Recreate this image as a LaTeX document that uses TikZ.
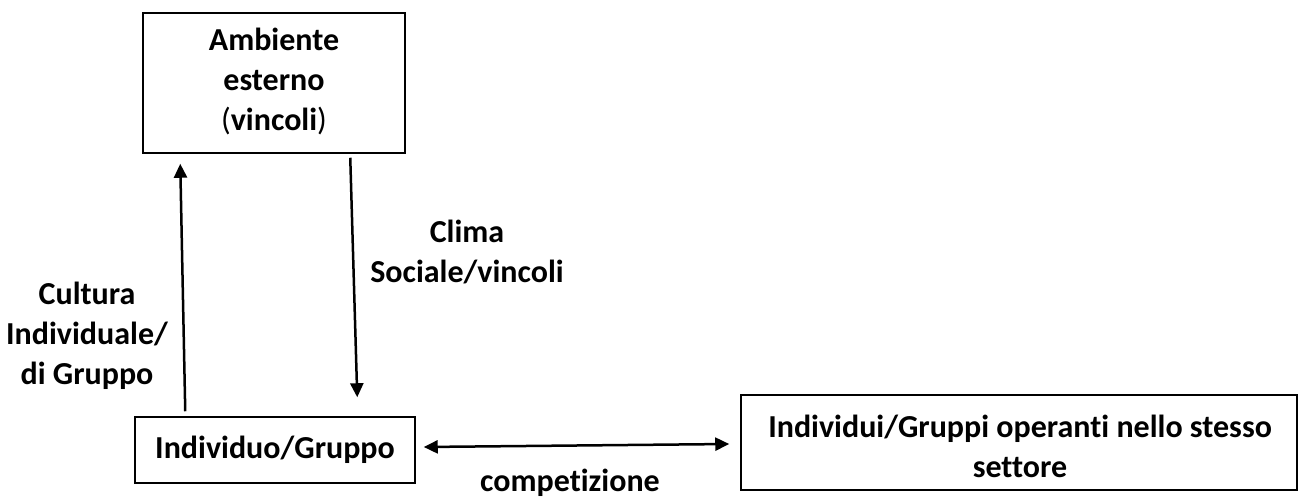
\documentclass[tikz,border=0pt]{standalone}
\usepackage{fontspec}
\setmainfont{Carlito}[RawFeature=-liga]
\usetikzlibrary{arrows.meta,calc}
\begin{document}
\begin{tikzpicture}[x=1pt,y=1pt,
  lbl/.style={font=\fontsize{32}{40}\selectfont\bfseries, inner sep=0pt, align=center},
  boxnode/.style={draw, line width=1.5pt, inner sep=0pt, font=\fontsize{32}{40}\selectfont\bfseries},
  arr/.style={line width=2.5pt, -{Triangle[length=14pt,width=13pt]}},
  darr/.style={line width=2.5pt, {Triangle[length=14pt,width=13pt]}-{Triangle[length=14pt,width=13pt]}}
]
\useasboundingbox (0,0) rectangle (1300,499);
\setlength{\tabcolsep}{0pt}
\node[boxnode, minimum width=262pt, minimum height=140pt] (amb) at (274,416)
  {\begin{tabular}{c}Ambiente\\esterno\\\textmd{(}vincoli\textmd{)}\end{tabular}};
\node[boxnode, minimum width=280pt, minimum height=66pt] (ind) at (275,49) {Individuo/Gruppo};
\node[boxnode, minimum width=556pt, minimum height=95pt] (oth) at (1019,56.5) {};
\node[lbl, anchor=base] (othtxt) at (1020,62)
  {\begin{tabular}[t]{c}Individui/Gruppi operanti nello stesso\\settore\end{tabular}};

\draw[arr] ($(ind.north west)+(51,5)$) -- ($(amb.south west)+(38,-10)$);
\draw[arr] ($(amb.south west)+(208,-4)$) -- ($(ind.north west)+(223,19)$);
\draw[darr] ($(ind.east)+(8,3)$) -- ($(oth.west)+(-11,-1.5)$);

\node[lbl, anchor=base] (clima) at (467,257)
  {\begin{tabular}[t]{c}Clima\\Sociale/vincoli\end{tabular}};
\node[lbl, anchor=base] (cult) at (87,195)
  {\begin{tabular}[t]{c}Cultura\\Individuale/\\di Gruppo\end{tabular}};
\node[lbl, anchor=base] (comp) at (570,8) {competizione};
\end{tikzpicture}
\end{document}
